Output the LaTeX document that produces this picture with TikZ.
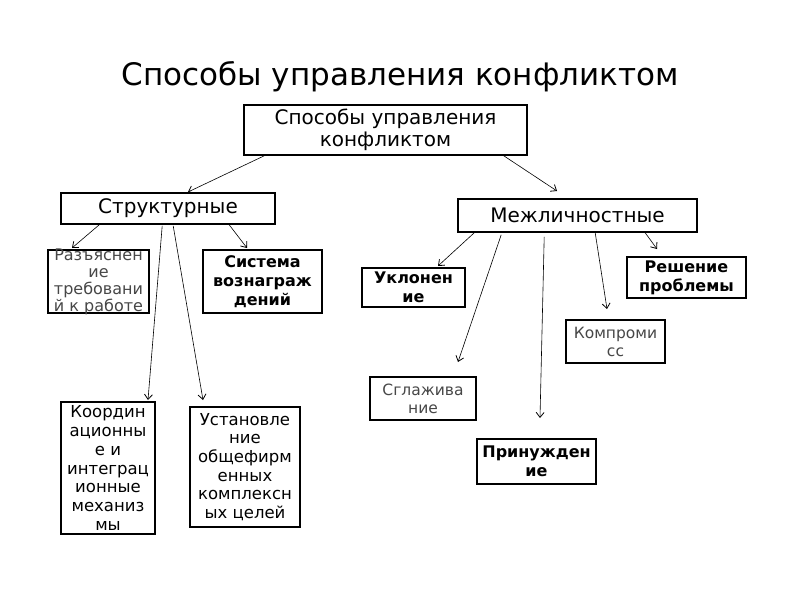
\documentclass[tikz,border=0pt]{standalone}
\usepackage{fontspec}
\setmainfont{DejaVu Sans}
\usetikzlibrary{arrows.meta,calc}
\tikzset{
  box/.style={draw, line width=1.6pt, inner sep=0pt, align=center, fill=white},
  conn/.style={line width=0.6pt, -{Straight Barb[length=5pt,width=8pt,line width=0.8pt]}},
  big/.style={font=\fontsize{20}{22}\selectfont},
  reg/.style={font=\fontsize{16.5}{18.7}\selectfont},
  lite/.style={font=\fontsize{15.5}{18}\selectfont, text=black!72},
  bld/.style={font=\fontsize{16}{19}\selectfont\bfseries},
}
\begin{document}
\begin{tikzpicture}[x=1pt,y=-1pt]
\useasboundingbox (0,0) rectangle (800,600);
\node[font=\fontsize{31}{34}\selectfont] (title) at (400,77) {Способы управления конфликтом};

\node[box,big,minimum width=283pt,minimum height=50pt] (top) at (385.5,130) {Способы управления\\конфликтом};
\node[box,big,minimum width=214pt,minimum height=31pt] (struct) at (168,208.5) {Структурные};
\node[box,big,minimum width=239pt,minimum height=33pt] (mezh) at (577.5,215.5) {Межличностные};

\node[box,minimum width=101pt,minimum height=63pt] (razy) at (98.5,281.5) {};
\node[font=\fontsize{16}{17}\selectfont,align=center,text=black!72] (razyt) at (98.5,282) {Разъяснен\\ие\\требовани\\й к работе};
\node[box,bld,minimum width=119pt,minimum height=63pt] (sist) at (262.5,281.5) {Система\\вознаграж\\дений};
\node[box,reg,minimum width=94pt,minimum height=132pt] (koord) at (108,468) {Координ\\ационны\\е и\\интеграц\\ионные\\механиз\\мы};
\node[box,reg,minimum width=110pt,minimum height=120pt] (ustan) at (245,467) {Установле\\ние\\общефирм\\енных\\комплексн\\ых целей};

\node[box,bld,minimum width=103pt,minimum height=39pt] (uklon) at (413.5,287.5) {Уклонен\\ие};
\node[box,bld,minimum width=119pt,minimum height=41pt] (resh) at (686.5,277.5) {Решение\\проблемы};
\node[box,lite,minimum width=99pt,minimum height=43pt] (komp) at (615.5,341.5) {Компроми\\сс};
\node[box,lite,minimum width=106pt,minimum height=43pt] (sglazh) at (423,398.5) {Сглажива\\ние};
\node[box,bld,minimum width=119pt,minimum height=45pt] (prin) at (536.5,461.5) {Принужден\\ие};

% end coordinates
\coordinate (eStruct) at (188,192);
\coordinate (eMezh) at (557,191);
\coordinate (eRazy) at (72,248);
\coordinate (eSist) at (247,248);
\coordinate (eKoord) at (148,400);
\coordinate (eUstan) at (203,400);
\coordinate (eUklon) at (438,266);
\coordinate (eSglazh) at (458,362);
\coordinate (ePrin) at (540,418);
\coordinate (eKomp) at (607,309);
\coordinate (eResh) at (657,249);

\draw[conn] ($(top.south west)+(21,0)$) -- (eStruct);
\draw[conn] ($(top.south east)+(-24,0)$) -- (eMezh);
\draw[conn] ($(struct.south west)+(39,0)$) -- (eRazy);
\draw[conn] ($(struct.south west)+(169,0)$) -- (eSist);
\draw[conn] ($(struct.south west)+(102,1)$) -- (eKoord);
\draw[conn] ($(struct.south west)+(113,1)$) -- (eUstan);
\draw[conn] ($(mezh.south west)+(17,0)$) -- (eUklon);
\draw[conn] ($(mezh.south west)+(44,2)$) -- (eSglazh);
\draw[conn] ($(mezh.south west)+(87,4)$) -- (ePrin);
\draw[conn] ($(mezh.south west)+(138,0)$) -- (eKomp);
\draw[conn] ($(mezh.south west)+(188,0)$) -- (eResh);
\end{tikzpicture}
\end{document}
